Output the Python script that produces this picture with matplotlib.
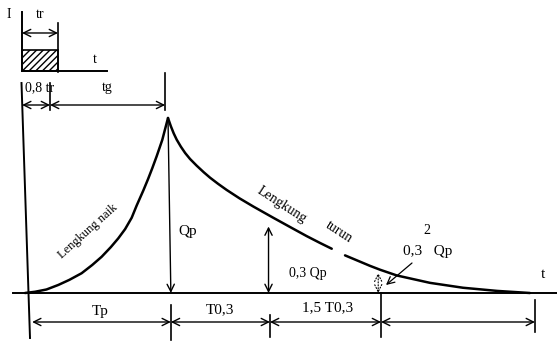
import numpy as np
import matplotlib
matplotlib.use("Agg")
import matplotlib.pyplot as plt
from matplotlib.patches import Rectangle

# --- data (t in units of Tp, Q in units of Qp) ---
rise_t = [0.0, 0.07, 0.15, 0.233, 0.31, 0.396, 0.47, 0.536, 0.6, 0.652, 0.7,
          0.746, 0.781, 0.827, 0.86, 0.89, 0.921, 0.96, 1.0]
rise_q = [0.0, 0.007, 0.02, 0.046, 0.075, 0.113, 0.16, 0.207, 0.262, 0.312, 0.365,
          0.43, 0.5, 0.585, 0.65, 0.713, 0.782, 0.875, 1.0]

fall1_t = [1.0, 1.02, 1.04, 1.061, 1.09, 1.12, 1.154, 1.2, 1.25, 1.294, 1.35,
           1.41, 1.5, 1.597, 1.736, 1.876, 1.97, 2.063, 2.145]
fall1_q = [1.0, 0.953, 0.912, 0.876, 0.836, 0.8, 0.766, 0.728, 0.69, 0.659, 0.624,
           0.589, 0.541, 0.494, 0.43, 0.367, 0.325, 0.286, 0.253]

fall2_t = [2.238, 2.413, 2.483, 2.601, 2.832, 3.063, 3.301, 3.531]
fall2_q = [0.215, 0.155, 0.133, 0.100, 0.058, 0.030, 0.012, 0.0]

t_peak = 1.0
t_tp = 1.02       # Tp tick
t_03 = 1.713      # T0,3
t_15 = 2.49       # 1,5 T0,3
t_end = 3.566
q_03 = 0.38       # 0,3 Qp arrow height
q_03sq = 0.114    # 0,3^2 Qp arrow height
t_08tr = 0.175    # 0,8 tr
t_tg = 0.98       # end of tg

hy_tr = 1.0       # hyetograph duration
hy_i = 1.0        # hyetograph intensity

W, H = 557, 346
fig = plt.figure(figsize=(W / 100, H / 100), dpi=100)
plt.rcParams['font.family'] = ['Liberation Serif', 'DejaVu Serif']

# main axes: pixel x = 25 + 143 t, pixel y = 293 - 175 Q
ax = fig.add_axes([0, 0, 1, 1])
ax.set_xlim(-25 / 143, 532 / 143)
ax.set_ylim(-53 / 175, 293 / 175)
ax.axis('off')

def px(x, y):
    return ((x - 25) / 143, (293 - y) / 175)

k = 'black'
for tt, qq in [(rise_t, rise_q), (fall1_t, fall1_q), (fall2_t, fall2_q)]:
    ax.plot(tt, qq, color=k, lw=1.8, solid_capstyle='round', solid_joinstyle='round')

# axes lines
ax.plot(*zip(px(21.5, 83), px(30, 338)), color=k, lw=1.4)
ax.plot(*zip(px(13, 293), px(557, 293)), color=k, lw=1.4)

def arrow(p0, p1, style='<->', lw=1.0, ls='-'):
    ax.annotate('', xy=p1, xytext=p0,
                arrowprops=dict(arrowstyle=style, color=k, lw=lw, ls=ls,
                                shrinkA=0, shrinkB=0, mutation_scale=13))

# Qp and 0,3 Qp arrows
arrow((t_peak, 1.0), (t_tp, 0.0), style='->')
arrow((t_03 - 0.01, 0.0), (t_03 - 0.01, q_03))
arrow((t_15 - 0.02, 0.0), (t_15 - 0.02, q_03sq), lw=0.8, ls=':')
arrow(px(412, 263), px(386, 285), style='->', lw=0.9)

# dimension line below
yd = px(0, 322)[1]
arrow((0.05, yd), (t_tp, yd))
arrow((t_tp, yd), (t_03, yd))
arrow((t_03, yd), (t_15, yd))
arrow((t_15, yd), (t_end, yd))
for tt, y0, y1 in [(t_tp, 305, 340), (t_03, 315, 337), (t_15, 293, 337), (t_end, 300, 332)]:
    ax.plot([tt, tt], [px(0, y0)[1], px(0, y1)[1]], color=k, lw=1.2)

# dimension line on top (0,8 tr and tg)
yt = px(0, 105)[1]
ax.plot([t_08tr, t_08tr], [px(0, 83)[1], px(0, 110)[1]], color=k, lw=1.2)
ax.plot([t_tg, t_tg], [px(0, 73)[1], px(0, 110)[1]], color=k, lw=1.2)
arrow((-0.02, yt), (t_08tr, yt))
arrow((t_08tr, yt), (t_tg, yt))

fs = 11
def label(x, y, s, **kw):
    ax.text(*px(x, y), s, ha='center', va='center', fontsize=kw.pop('fontsize', fs), **kw)

label(100, 311, 'Tp')
label(220, 310, 'T0,3')
label(328, 308, '1,5 T0,3')
label(188, 232, 'Qp')
label(308, 273, '0,3 Qp', fontsize=10)
label(427, 231, '2', fontsize=10)
label(428, 252, '0,3   Qp')
label(543, 275, 't')
label(88, 231, 'Lengkung naik', rotation=42, fontsize=9)
label(282, 205, 'Lengkung', rotation=-33, fontsize=10)
label(339, 232, 'turun', rotation=-33, fontsize=10)
label(40, 88, '0,8 tr', fontsize=10)
label(107, 88, 'tg', fontsize=10)

# hyetograph: pixel x = 22 + 36 t, pixel y = 71 - 21 i
hx = fig.add_axes([22 / W, (H - 71) / H, 88 / W, 63 / H])
hx.set_xlim(0, 88 / 36)
hx.set_ylim(0, 63 / 21)
hx.axis('off')
hx.add_patch(Rectangle((0, 0), hy_tr, hy_i, fill=False, hatch='/////',
                       edgecolor=k, lw=1.2, clip_on=False))
hx.plot([0, 0], [0, 2.81], color=k, lw=1.4, clip_on=False)
hx.plot([0, 2.36], [0, 0], color=k, lw=1.4, clip_on=False)
hx.plot([hy_tr, hy_tr], [-0.05, 2.29], color=k, lw=1.2, clip_on=False)
hx.annotate('', xy=(hy_tr, 1.81), xytext=(0, 1.81),
            arrowprops=dict(arrowstyle='<->', color=k, lw=1.0,
                            shrinkA=0, shrinkB=0, mutation_scale=13))
hx.text(-0.36, 2.667, 'I', ha='center', va='center', fontsize=10)
hx.text(0.5, 2.667, 'tr', ha='center', va='center', fontsize=10)
hx.text(2.03, 0.524, 't', ha='center', va='center', fontsize=10)

fig.savefig('out.png', dpi=100)
